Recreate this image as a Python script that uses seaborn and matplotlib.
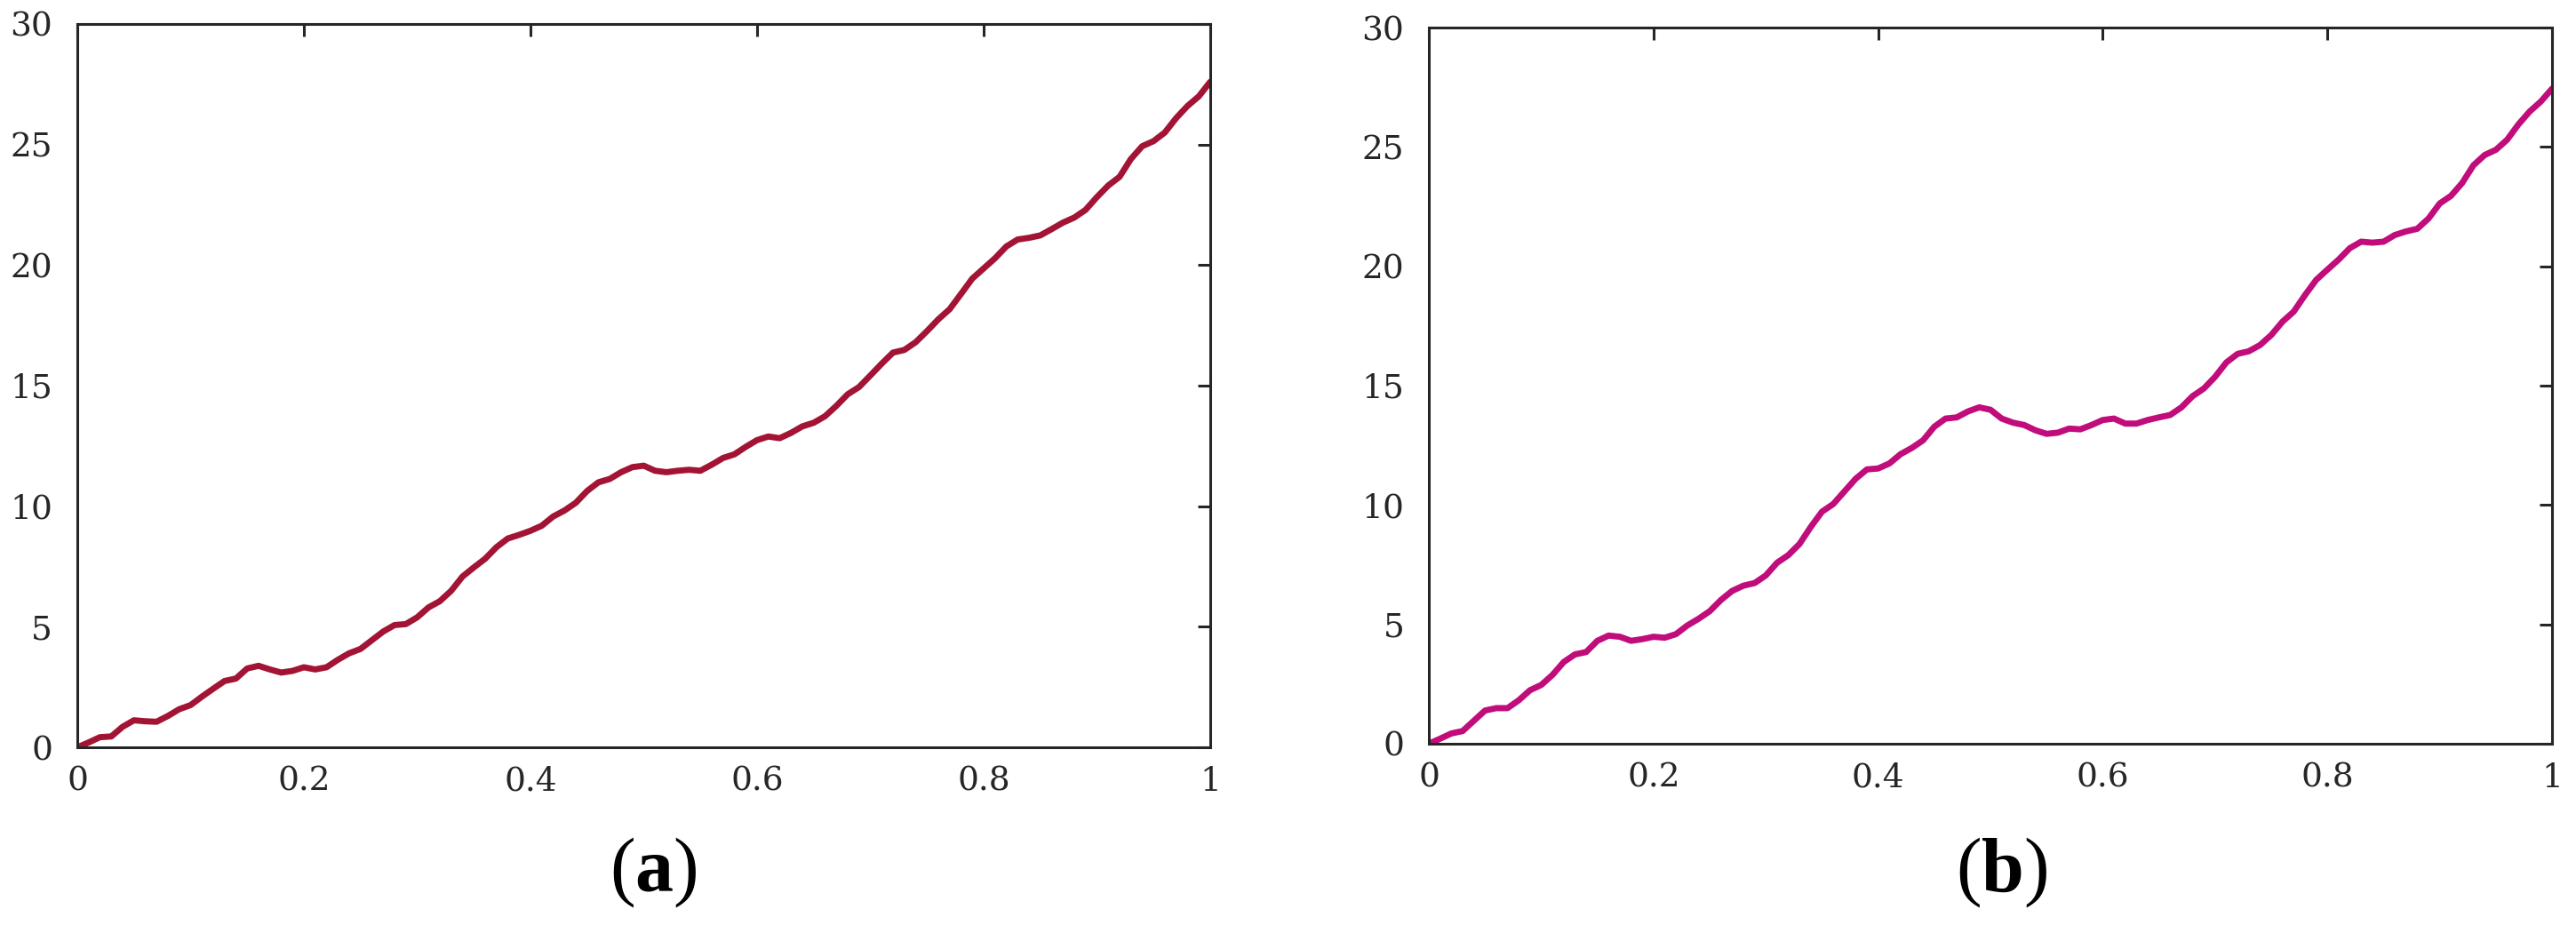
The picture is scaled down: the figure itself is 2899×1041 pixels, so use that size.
import numpy as np
import pandas as pd
import matplotlib
matplotlib.use("Agg")
import matplotlib.pyplot as plt
import seaborn as sns

# ---- data ----
t = [i / 100 for i in range(101)]

path_a = [0.0, 0.2, 0.42, 0.45, 0.85, 1.12, 1.08, 1.06, 1.3, 1.58,
          1.75, 2.1, 2.43, 2.75, 2.85, 3.27, 3.38, 3.23, 3.1, 3.17,
          3.32, 3.23, 3.32, 3.63, 3.9, 4.08, 4.44, 4.8, 5.07, 5.11,
          5.39, 5.8, 6.06, 6.49, 7.08, 7.46, 7.82, 8.3, 8.66, 8.81,
          8.98, 9.19, 9.57, 9.82, 10.14, 10.63, 10.99, 11.13, 11.41, 11.62,
          11.68, 11.47, 11.41, 11.47, 11.51, 11.47, 11.72, 12.0, 12.15, 12.46,
          12.74, 12.89, 12.82, 13.04, 13.31, 13.46, 13.73, 14.16, 14.64, 14.94,
          15.42, 15.91, 16.37, 16.48, 16.8, 17.26, 17.75, 18.17, 18.8, 19.44,
          19.86, 20.28, 20.77, 21.06, 21.13, 21.23, 21.49, 21.76, 21.97, 22.29,
          22.82, 23.3, 23.66, 24.4, 24.93, 25.14, 25.5, 26.1, 26.6, 27.0,
          27.6]

path_b = [0.0, 0.21, 0.43, 0.53, 0.96, 1.39, 1.49, 1.49, 1.82, 2.24,
          2.46, 2.88, 3.42, 3.74, 3.84, 4.31, 4.53, 4.48, 4.31, 4.38,
          4.48, 4.44, 4.59, 4.95, 5.23, 5.55, 6.02, 6.4, 6.62, 6.73,
          7.05, 7.58, 7.9, 8.37, 9.08, 9.72, 10.04, 10.57, 11.1, 11.49,
          11.53, 11.74, 12.13, 12.39, 12.71, 13.28, 13.62, 13.67, 13.92, 14.09,
          13.99, 13.62, 13.45, 13.35, 13.13, 12.98, 13.03, 13.2, 13.17, 13.35,
          13.56, 13.62, 13.41, 13.41, 13.56, 13.67, 13.77, 14.09, 14.56, 14.88,
          15.37, 15.97, 16.33, 16.44, 16.7, 17.12, 17.68, 18.1, 18.79, 19.43,
          19.86, 20.28, 20.76, 21.03, 20.99, 21.03, 21.31, 21.46, 21.57, 22.0,
          22.63, 22.95, 23.49, 24.23, 24.66, 24.88, 25.3, 25.94, 26.48, 26.9,
          27.44]

x_ticks = [0, 0.2, 0.4, 0.6, 0.8, 1]
x_tick_labels = ["0", "0.2", "0.4", "0.6", "0.8", "1"]
y_ticks = [0, 5, 10, 15, 20, 25, 30]
y_tick_labels = ["0", "5", "10", "15", "20", "25", "30"]
panel_labels = ["a", "b"]
colors = ["#A31434", "#C10C7B"]

sns.set_theme(style="white")
plt.rcParams["font.family"] = ["DejaVu Serif", "Liberation Serif"]
plt.rcParams["mathtext.fontset"] = "custom"
plt.rcParams["mathtext.rm"] = "Liberation Serif"
plt.rcParams["mathtext.bf"] = "Liberation Serif:bold"

fig = plt.figure(figsize=(28.99, 10.41), dpi=100)
ax_a = fig.add_axes([0.0300, 0.1921, 0.4398, 0.7820])
ax_b = fig.add_axes([0.5547, 0.1960, 0.4360, 0.7742])

spine_col = "#262626"
for ax, ys, col, lab, cx in [(ax_a, path_a, colors[0], panel_labels[0], 0.2535),
                             (ax_b, path_b, colors[1], panel_labels[1], 0.7770)]:
    df = pd.DataFrame({"t": t, "v": ys})
    sns.lineplot(data=df, x="t", y="v", ax=ax, color=col, linewidth=5.0,
                 solid_capstyle="round", solid_joinstyle="round")
    ax.set_xlim(0, 1)
    ax.set_ylim(0, 30)
    ax.set_xticks(x_ticks)
    ax.set_xticklabels(x_tick_labels)
    ax.set_yticks(y_ticks)
    ax.set_yticklabels(y_tick_labels)
    ax.set_xlabel("")
    ax.set_ylabel("")
    for s in ax.spines.values():
        s.set_visible(True)
        s.set_color(spine_col)
        s.set_linewidth(2.2)
    ax.tick_params(axis="both", which="major", direction="in", length=10, width=2.2,
                   color=spine_col, labelsize=27, labelcolor="#262626",
                   top=True, right=True)
    ax.tick_params(axis="x", pad=15)
    ax.tick_params(axis="y", pad=20)
    ax.set_facecolor("white")
    fig.text(cx, 0.056, r"$(\mathbf{" + lab + r"})$", ha="center", va="center",
             fontsize=62, color="black")

fig.savefig("out.png", dpi=100, facecolor="white")
